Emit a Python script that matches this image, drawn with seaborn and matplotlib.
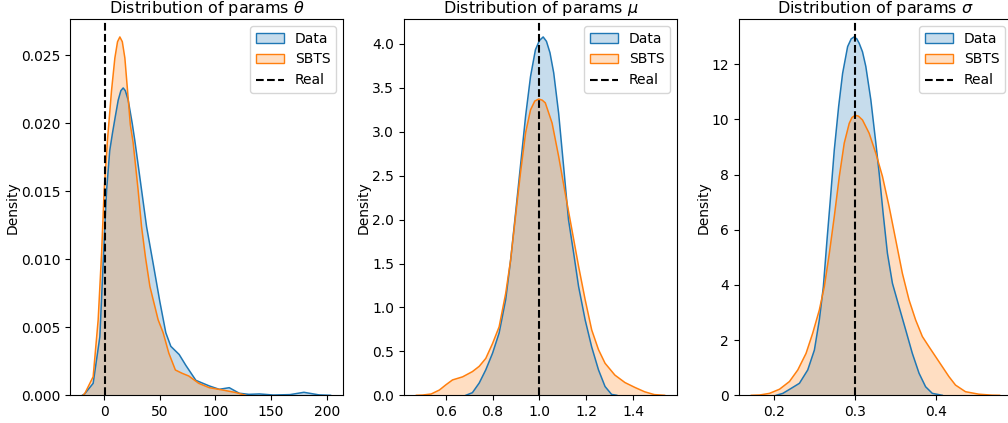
import matplotlib
matplotlib.use("Agg")
import matplotlib.pyplot as plt
import seaborn as sns
import numpy as np
from matplotlib.colors import to_rgba
from matplotlib.patches import Patch
from matplotlib.lines import Line2D

# valores (curvas de densidade KDE)
theta_data_x = [-19.6, -17.6, -9.9, -3.9, 0.0, 2.2, 5.0, 7.5, 10.0, 12.6, 15.0, 17.1,
                19.0, 21.6, 25.2, 27.6, 33.6, 38.1, 44.0, 50.0, 55.4, 59.9, 67.4, 73.4,
                82.4, 94.4, 103.4, 112.4, 121.4, 130.0, 139.5, 152.0, 167.0, 179.5,
                193.0, 203.4]
theta_data_y = [0.0, 0.0001, 0.00088, 0.0043, 0.0114, 0.0151, 0.0180, 0.0193, 0.0205,
                0.0217, 0.0224, 0.0226, 0.0224, 0.0217, 0.0200, 0.0187, 0.0151, 0.0124,
                0.0097, 0.0069, 0.0046, 0.0036, 0.0030, 0.0022, 0.0011, 0.00069, 0.00044,
                0.00056, 0.00015, 0.00007, 0.0001, 0.00002, 0.00005, 0.00022, 0.00003, 0.0]
theta_sbts_x = [-19.0, -17.3, -9.9, -5.4, -2.3, 0.0, 3.0, 6.6, 9.6, 12.0, 14.1, 16.3,
                18.6, 21.0, 23.5, 26.0, 30.5, 33.6, 37.2, 41.1, 48.5, 53.0, 58.1, 64.0,
                70.0, 76.0, 85.0, 94.4, 106.4, 118.4, 127.0]
theta_sbts_y = [0.0, 0.00015, 0.00137, 0.00555, 0.0105, 0.0151, 0.0188, 0.0224, 0.0248,
                0.0260, 0.02635, 0.0260, 0.0248, 0.0224, 0.0199, 0.0186, 0.0151, 0.0124,
                0.0101, 0.0080, 0.00555, 0.0046, 0.0031, 0.00186, 0.00162, 0.00142,
                0.00088, 0.00056, 0.00039, 0.0002, 0.0]

mu_data_x = [0.686, 0.714, 0.743, 0.771, 0.800, 0.828, 0.856, 0.877, 0.898, 0.919, 0.941,
             0.962, 0.983, 1.000, 1.016, 1.030, 1.045, 1.061, 1.082, 1.103, 1.124, 1.146,
             1.167, 1.195, 1.223, 1.252, 1.280, 1.308, 1.330]
mu_data_y = [0.0, 0.03, 0.14, 0.29, 0.48, 0.71, 1.09, 1.54, 2.07, 2.61, 3.18, 3.63, 3.935,
             4.04, 4.08, 4.03, 3.90, 3.67, 3.21, 2.61, 2.0, 1.62, 1.24, 0.86, 0.55, 0.29,
             0.10, 0.01, 0.0]
mu_sbts_x = [0.475, 0.502, 0.538, 0.573, 0.601, 0.629, 0.672, 0.714, 0.743, 0.771, 0.800,
             0.828, 0.856, 0.877, 0.898, 0.919, 0.941, 0.962, 0.980, 0.997, 1.012, 1.025,
             1.054, 1.082, 1.110, 1.139, 1.167, 1.195, 1.223, 1.252, 1.280, 1.322, 1.365,
             1.407, 1.449, 1.490, 1.534]
mu_sbts_y = [0.0, 0.003, 0.015, 0.06, 0.12, 0.175, 0.21, 0.27, 0.33, 0.42, 0.59, 0.78, 1.16,
             1.54, 2.04, 2.53, 2.99, 3.25, 3.35, 3.373, 3.36, 3.33, 3.10, 2.72, 2.30, 1.88,
             1.47, 1.09, 0.745, 0.52, 0.365, 0.23, 0.145, 0.09, 0.04, 0.008, 0.0]

sigma_data_x = [0.2023, 0.2105, 0.2207, 0.231, 0.2413, 0.2495, 0.2556, 0.2606, 0.2651,
                0.2692, 0.2741, 0.2795, 0.2844, 0.2906, 0.2950, 0.2985, 0.3020, 0.3049,
                0.3090, 0.3131, 0.3193, 0.3255, 0.3296, 0.3345, 0.3398, 0.346, 0.3542,
                0.3624, 0.3706, 0.3789, 0.387, 0.3953, 0.4076]
sigma_data_y = [0.0, 0.07, 0.25, 0.435, 0.92, 1.64, 2.73, 3.94, 5.63, 7.08, 8.89, 10.47,
                11.67, 12.64, 12.92, 12.99, 12.92, 12.76, 12.45, 11.92, 10.71, 9.14, 8.05,
                6.60, 5.15, 4.06, 3.21, 2.37, 1.52, 0.80, 0.31, 0.07, 0.0]
sigma_sbts_x = [0.1716, 0.1817, 0.194, 0.2064, 0.2187, 0.229, 0.2392, 0.2474, 0.2556,
                0.2618, 0.268, 0.2741, 0.2803, 0.2864, 0.2926, 0.2960, 0.3000, 0.3040,
                0.309, 0.3172, 0.3255, 0.3337, 0.3419, 0.3501, 0.3583, 0.3665, 0.3747,
                0.383, 0.3912, 0.3994, 0.4076, 0.4158, 0.424, 0.4363, 0.4528, 0.469, 0.4784]
sigma_sbts_y = [0.0, 0.01, 0.07, 0.22, 0.50, 0.92, 1.52, 2.25, 3.09, 3.94, 5.15, 6.48,
                7.93, 9.14, 9.86, 10.07, 10.15, 10.12, 9.98, 9.50, 8.77, 7.93, 6.84, 5.63,
                4.42, 3.46, 2.73, 2.13, 1.76, 1.40, 1.04, 0.68, 0.37, 0.13, 0.04, 0.005, 0.0]

params = ["theta", "mu", "sigma"]
real_values = [1.0, 1.0, 0.3]
series = {
    "theta": [(theta_data_x, theta_data_y), (theta_sbts_x, theta_sbts_y)],
    "mu": [(mu_data_x, mu_data_y), (mu_sbts_x, mu_sbts_y)],
    "sigma": [(sigma_data_x, sigma_data_y), (sigma_sbts_x, sigma_sbts_y)],
}
labels = ["Data", "SBTS"]
cores = sns.color_palette("tab10", 2)

fig = plt.figure(figsize=(10.08, 4.23), dpi=100)
lefts = [0.0694, 0.4008, 0.7331]

for i, p in enumerate(params):
    ax = fig.add_axes([lefts[i], 0.0655, 0.2708, 0.8895])
    for (xs, ys), lab, cor in zip(series[p], labels, cores):
        poly = ax.fill_between(xs, ys, facecolor=to_rgba(cor, 0.25), linewidth=0)
        poly.sticky_edges.y.append(0)
        sns.lineplot(x=np.array(xs), y=np.array(ys), color=cor, linewidth=1.1,
                     ax=ax, legend=False)
    ax.axvline(real_values[i], color="k", linestyle="--", linewidth=1.5)
    ax.set_title(rf"Distribution of params $\{p}$", fontsize=11.5, pad=4.5)
    ax.set_ylabel("Density", labelpad=1)
    handles = [Patch(facecolor=to_rgba(c, 0.25), edgecolor=c, label=l)
               for l, c in zip(labels, cores)]
    handles.append(Line2D([], [], color="k", linestyle="--", label="Real"))
    ax.legend(handles=handles, loc="upper right")

plt.savefig("out.png", dpi=100)
